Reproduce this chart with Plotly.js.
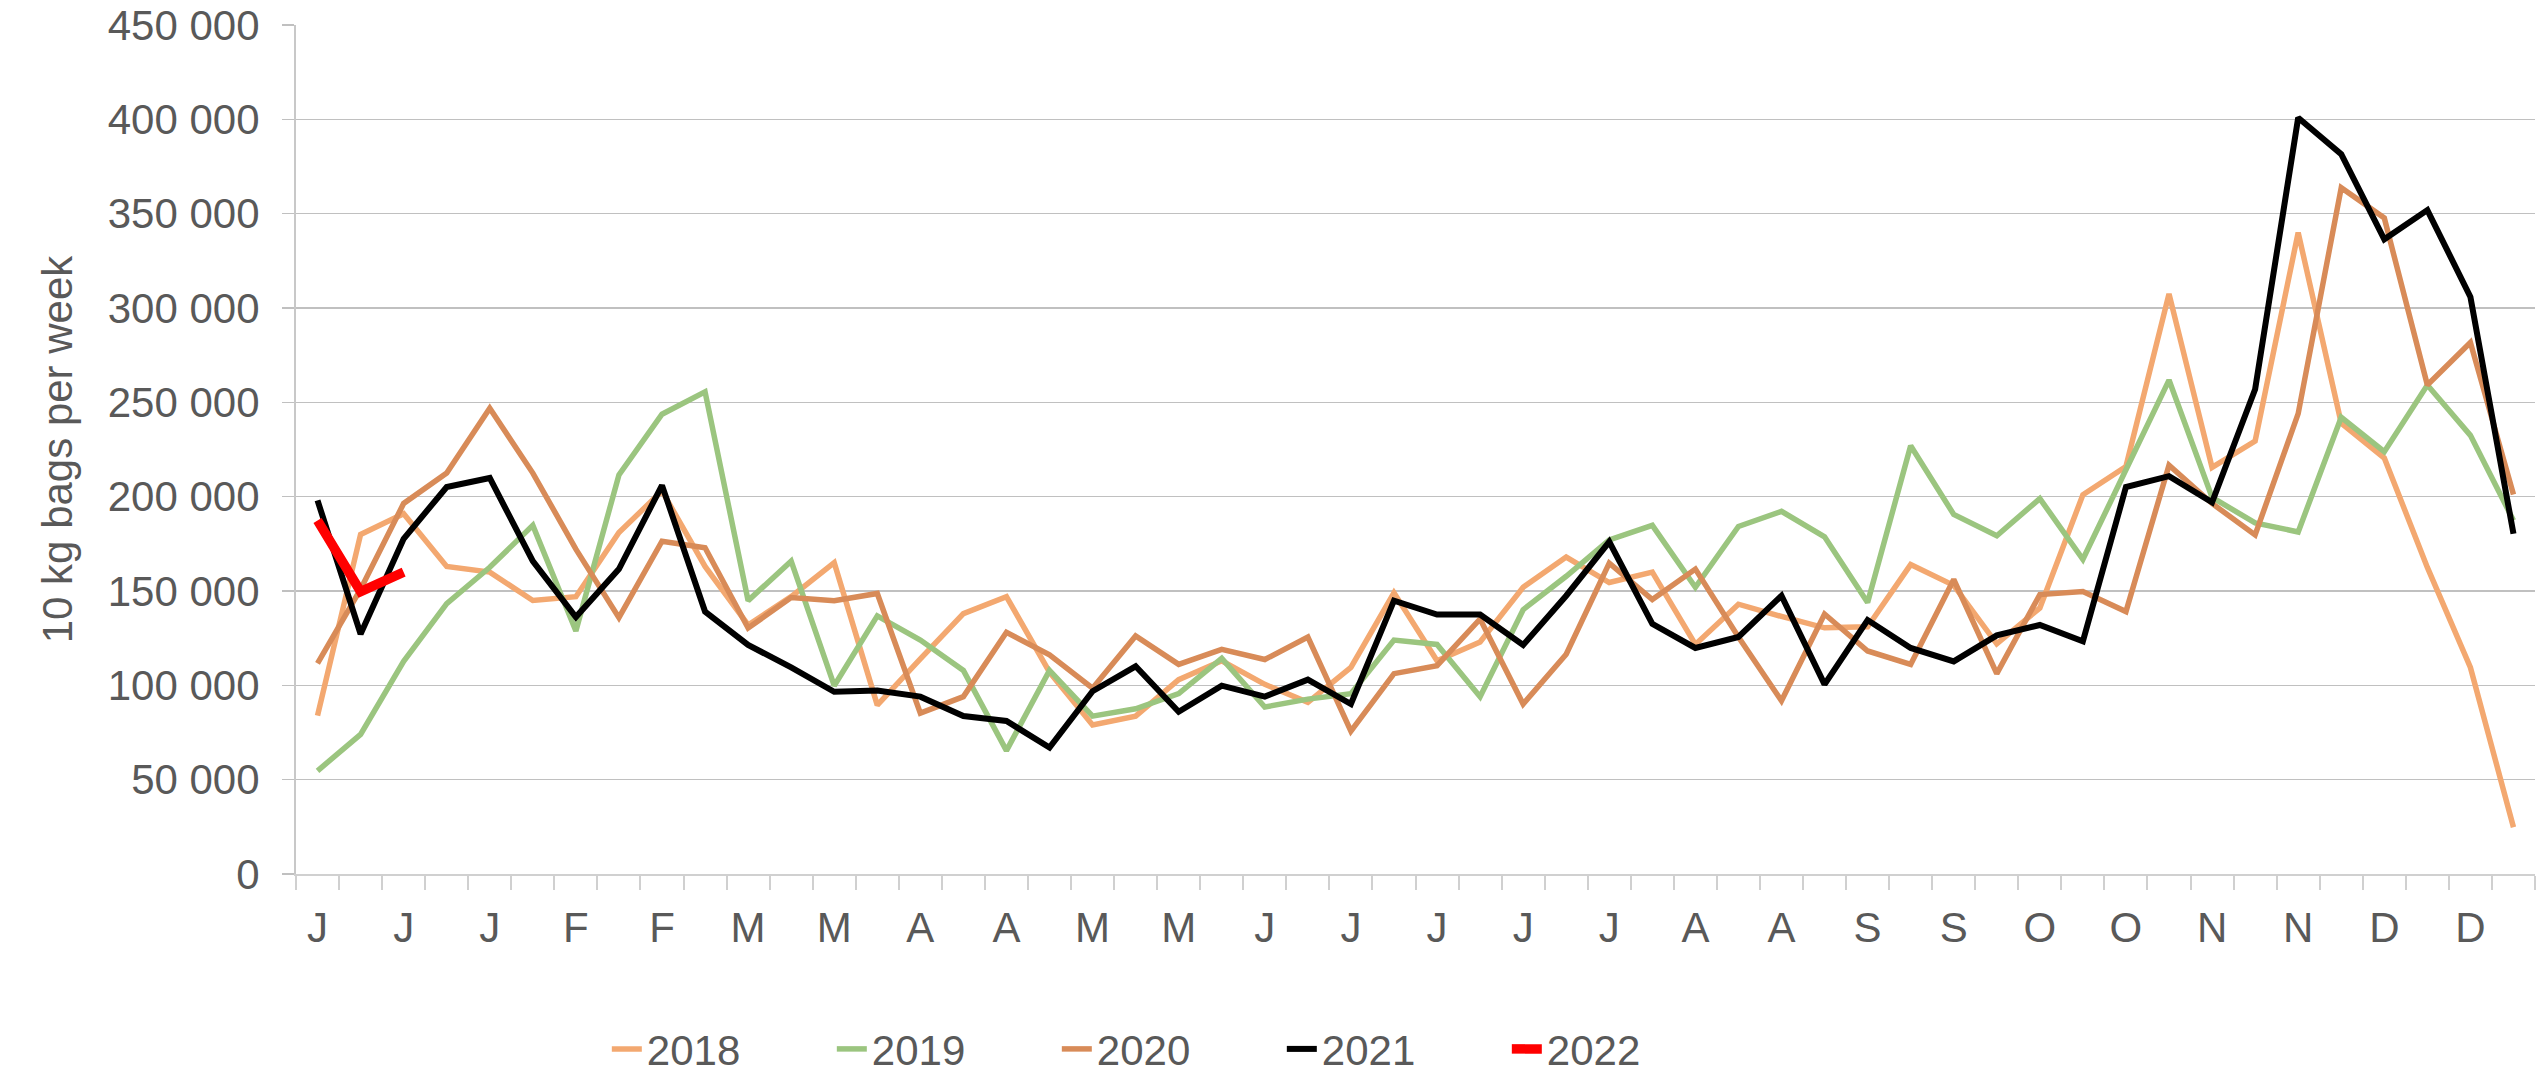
<!DOCTYPE html>
<html>
<head>
<meta charset="utf-8">
<script src="https://cdn.plot.ly/plotly-3.0.1.min.js"></script>
<style>html,body{margin:0;padding:0;background:#fff;}#chart{width:2539px;height:1076px;}</style>
</head>
<body>
<div id="chart"></div>
<script>
const weeks = [1,2,3,4,5,6,7,8,9,10,11,12,13,14,15,16,17,18,19,20,21,22,23,24,25,26,
               27,28,29,30,31,32,33,34,35,36,37,38,39,40,41,42,43,44,45,46,47,48,49,50,51,52];
const tickWeeks = [1,3,5,7,9,11,13,15,17,19,21,23,25,27,29,31,33,35,37,39,41,43,45,47,49,51];
const tickLabels = ["J","J","J","F","F","M","M","A","A","M","M","J","J","J","J","J","A","A","S","S","O","O","N","N","D","D"];

const d2018 = [84000,180000,191000,163000,160000,145000,147000,181000,203000,163000,
               132000,147000,165000,89500,114000,138000,147000,107000,79000,83700,
               103000,113000,100500,91000,109500,149000,113000,123000,152000,168000,
               154500,160000,121700,143000,136500,130500,131000,164000,153000,122000,
               141000,201000,216000,307500,215500,229500,340000,239000,220500,162500,
               109500,24800];
const d2019 = [54700,74000,112700,143300,162600,184800,128800,211500,243700,255600,
               144900,165800,99800,136800,124000,107900,65400,107900,83700,87600,
               95600,114300,88500,92700,95600,124000,121700,94000,140100,157800,
               177100,184800,152000,184200,192200,178700,143900,227000,190600,179300,
               199000,166800,214300,261800,199600,186100,181300,242100,223800,259200,
               232500,187400];
const d2020 = [111700,151000,196400,212500,246900,212500,172200,135900,176400,172900,
               130400,146500,144900,148700,85300,94000,128100,116200,98500,126200,
               111100,119100,113700,125600,75700,106200,110400,135200,90100,116500,
               164800,145500,161600,125600,91800,137800,118200,111100,156100,106200,
               148100,149700,139100,216700,196400,179700,244000,363800,347700,259200,
               281700,201200];
const d2021 = [198000,127200,177700,205100,209900,165800,136200,161600,206000,139100,
               121400,109500,96600,97200,94000,83700,81100,67000,96900,110100,
               86000,99800,94000,103000,90100,144900,137500,137500,121400,147500,
               176100,132600,119800,125600,147500,100500,134600,119800,112700,126500,
               132000,123300,205100,210900,197000,256900,400800,381500,336400,351900,
               305900,180300];
const d2022 = [187400,149700,160000];

const seriesNames = ["2018","2019","2020","2021","2022"];
const seriesData = [d2018, d2019, d2020, d2021, d2022];
const seriesColors = ["#F3A870","#9BC57F","#D88B58","#000000","#FF0000"];
const seriesWidths = [5.5, 5.5, 5.5, 6, 9.5];

const traces = seriesNames.map((name, k) => ({
  type: "scatter",
  mode: "lines",
  name: name,
  x: weeks.slice(0, seriesData[k].length),
  y: seriesData[k],
  line: {color: seriesColors[k], width: seriesWidths[k]},
  hoverinfo: "x+y+name"
}));

const gray = "#595959";
const layout = {
  width: 2539,
  height: 1076,
  margin: {l: 296, r: 4, t: 25, b: 202},
  paper_bgcolor: "#ffffff",
  plot_bgcolor: "#ffffff",
  separators: ". ",
  font: {family: "Liberation Sans, Arial, sans-serif", size: 42, color: gray},
  showlegend: true,
  legend: {
    orientation: "h",
    xref: "container", yref: "container",
    x: 0.239, xanchor: "left",
    y: 0.025, yanchor: "middle",
    entrywidth: 180, entrywidthmode: "pixels",
    font: {size: 42, color: gray},
    bgcolor: "rgba(0,0,0,0)"
  },
  xaxis: {
    range: [0.5, 52.5],
    tickmode: "array",
    tickvals: tickWeeks,
    ticktext: tickLabels,
    ticks: "",
    showgrid: false,
    zeroline: false,
    showline: true,
    linecolor: "#D0D0D0",
    linewidth: 2,
    tickfont: {size: 42, color: gray},
    ticklabelstandoff: 16,
    minor: {tickmode: "linear", tick0: 0.5, dtick: 1, ticks: "outside", ticklen: 14, tickcolor: "#D0D0D0", tickwidth: 2, showgrid: false}
  },
  yaxis: {
    range: [0, 450000],
    tickmode: "linear",
    tick0: 0,
    dtick: 50000,
    tickformat: ",d",
    ticks: "outside",
    ticklen: 12,
    tickcolor: "#C0C0C0",
    tickwidth: 1.5,
    showgrid: true,
    gridcolor: "#C0C0C0",
    gridwidth: 1.5,
    zeroline: false,
    showline: true,
    linecolor: "#C8C8C8",
    linewidth: 2,
    tickfont: {size: 42, color: gray},
    ticklabelstandoff: 14,
    title: {text: "10 kg bags per week", font: {size: 42, color: gray}, standoff: 22}
  }
};

Plotly.newPlot("chart", traces, layout, {displayModeBar: false, staticPlot: true});
</script>
</body>
</html>
